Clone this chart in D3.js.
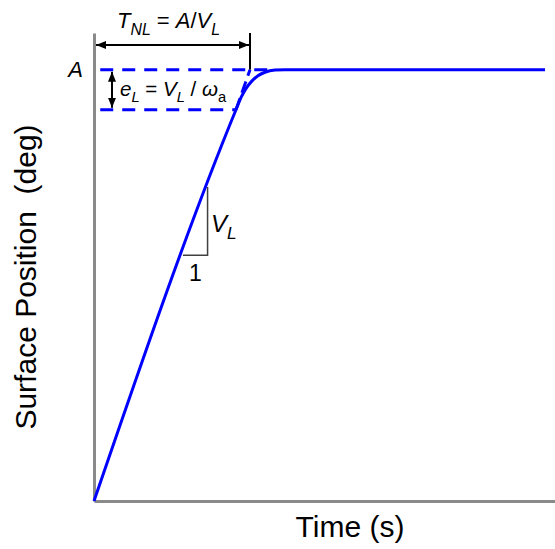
<!DOCTYPE html>
<html>
<head>
<meta charset="utf-8">
<script src="https://cdn.jsdelivr.net/npm/d3@7"></script>
<style>
  body { margin: 0; background: #fff; }
  svg { display: block; font-family: "Liberation Sans", Arial, sans-serif; }
</style>
</head>
<body>
<div id="chart"></div>
<script>
// step response (time in s, position in deg)
var timeS  = [0, 0.91, 0.942, 0.974, 1.013, 1.051, 1.096, 1.16, 1.224, 2.891];
var posDeg = [0, 9.07, 9.35, 9.56, 9.74, 9.86, 9.94, 9.99, 10, 10];

// annotation values
var A = 10;          // commanded amplitude
var eL = 0.93;       // rate-limit lag
var TNL = 1.0;       // A / V_L
var slopeTri = [[0.57, 5.7], [0.728, 5.7], [0.728, 7.28]];

var width = 555, height = 549;
var view = { left: 94, right: 555, top: 33, bottom: 501 };

var svg = d3.select("#chart").append("svg")
    .attr("width", width)
    .attr("height", height);

var x = d3.scaleLinear().domain([0, 2.955]).range([view.left, view.right]);
var y = d3.scaleLinear().domain([0, 10.85]).range([view.bottom, view.top]);

// arrow heads
var defs = svg.append("defs");
["start", "end"].forEach(function(k) {
    defs.append("marker")
        .attr("id", "arr-" + k)
        .attr("viewBox", "0 -5 10 10")
        .attr("refX", k == "end" ? 10 : 0)
        .attr("refY", 0)
        .attr("markerWidth", 10)
        .attr("markerHeight", 10)
        .attr("markerUnits", "userSpaceOnUse")
        .attr("orient", "auto")
      .append("path")
        .attr("d", k == "end" ? "M0,-4L10,0L0,4Z" : "M10,-4L0,0L10,4Z")
        .attr("fill", "#000");
});

// axes (no ticks, just the gray spines)
var xAxis = svg.append("g")
    .attr("transform", "translate(0," + view.bottom + ")")
    .call(d3.axisBottom(x).tickValues([]).tickSizeOuter(0));
var yAxis = svg.append("g")
    .attr("transform", "translate(" + view.left + ",0)")
    .call(d3.axisLeft(y).tickValues([A]).tickSize(0).tickPadding(11).tickFormat(function() { return "A"; }));
svg.selectAll(".domain").attr("stroke", "#8a8a8a").attr("stroke-width", 3);
yAxis.selectAll(".tick text")
    .attr("font-size", 22)
    .attr("font-style", "italic")
    .attr("font-family", "Liberation Sans, Arial, sans-serif")
    .attr("fill", "#000");

// dashed reference lines
var dash = "13,9";
svg.append("line")
    .attr("x1", x(0.04)).attr("x2", x(1.16))
    .attr("y1", y(A)).attr("y2", y(A))
    .attr("stroke", "#0000ff").attr("stroke-width", 3).attr("stroke-dasharray", dash);
svg.append("line")
    .attr("x1", x(0.04)).attr("x2", x(0.91))
    .attr("y1", y(A - eL)).attr("y2", y(A - eL))
    .attr("stroke", "#0000ff").attr("stroke-width", 3).attr("stroke-dasharray", dash);
svg.append("line")
    .attr("x1", x(0.91)).attr("x2", x(TNL))
    .attr("y1", y(A - eL)).attr("y2", y(A))
    .attr("stroke", "#0000ff").attr("stroke-width", 3).attr("stroke-dasharray", "12,6");

// response curve
var line = d3.line()
    .x(function(d, i) { return x(timeS[i]); })
    .y(function(d, i) { return y(posDeg[i]); })
    .curve(d3.curveMonotoneX);
svg.append("path")
    .datum(timeS)
    .attr("d", line)
    .attr("fill", "none")
    .attr("stroke", "#0000ff")
    .attr("stroke-width", 3);

// slope triangle
svg.append("path")
    .datum(slopeTri)
    .attr("d", d3.line().x(function(d) { return x(d[0]); }).y(function(d) { return y(d[1]); }))
    .attr("fill", "none")
    .attr("stroke", "#404040")
    .attr("stroke-width", 1.5);

// T_NL dimension arrow
svg.append("line")
    .attr("x1", x(0) + 2).attr("x2", x(TNL) - 1)
    .attr("y1", 45).attr("y2", 45)
    .attr("stroke", "#000").attr("stroke-width", 2)
    .attr("marker-start", "url(#arr-start)")
    .attr("marker-end", "url(#arr-end)");
svg.append("line")
    .attr("x1", x(TNL)).attr("x2", x(TNL))
    .attr("y1", 33).attr("y2", y(A))
    .attr("stroke", "#000").attr("stroke-width", 2);

// e_L dimension arrow
svg.append("line")
    .attr("x1", 112).attr("x2", 112)
    .attr("y1", y(A) + 2).attr("y2", y(A - eL) - 2)
    .attr("stroke", "#000").attr("stroke-width", 2)
    .attr("marker-start", "url(#arr-start)")
    .attr("marker-end", "url(#arr-end)");

// rich text helper: parts with italic / subscript flags
function richText(px, py, size, parts, anchor) {
    var t = svg.append("text")
        .attr("x", px).attr("y", py)
        .attr("font-size", size)
        .attr("text-anchor", anchor || "start")
        .attr("fill", "#000");
    var down = false;
    parts.forEach(function(p) {
        var s = t.append("tspan").text(p.t).attr("xml:space", "preserve");
        if (p.i) s.attr("font-style", "italic");
        if (p.sub && !down) { s.attr("dy", size * 0.3).attr("font-size", size * 0.72); down = true; }
        else if (p.sub) { s.attr("font-size", size * 0.72); }
        else if (down) { s.attr("dy", -size * 0.3); down = false; }
    });
    return t;
}

richText(117, 28, 22, [
    { t: "T", i: true }, { t: "NL", i: true, sub: true },
    { t: " = " }, { t: "A", i: true }, { t: "/" },
    { t: "V", i: true }, { t: "L", i: true, sub: true }
]);

richText(120, 96, 20.5, [
    { t: "e", i: true }, { t: "L", i: true, sub: true },
    { t: " = " }, { t: "V", i: true }, { t: "L", i: true, sub: true },
    { t: " / " }, { t: "\u03c9", i: true }, { t: "a", sub: true }
]);

richText(211, 232, 24, [
    { t: "V", i: true }, { t: "L", i: true, sub: true }
]);
richText(189, 281, 23, [{ t: "1" }]);

// axis titles
svg.append("text")
    .attr("x", 350).attr("y", 537)
    .attr("text-anchor", "middle")
    .attr("font-size", 30)
    .text("Time (s)");
svg.append("text")
    .attr("transform", "translate(36,277) rotate(-90)")
    .attr("text-anchor", "middle")
    .attr("font-size", 30)
    .attr("xml:space", "preserve")
    .text("Surface Position  (deg)");
</script>
</body>
</html>
